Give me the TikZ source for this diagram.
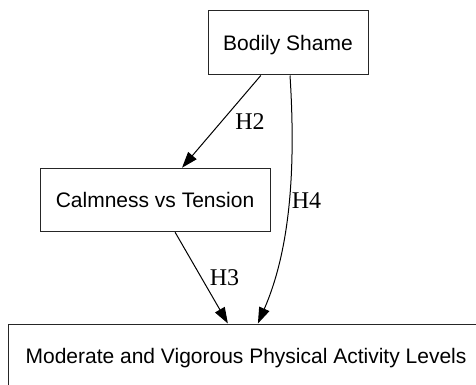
\documentclass[tikz,border=0pt]{standalone}
\usepackage{fontspec}
\setmainfont{Liberation Serif}
\setsansfont{Liberation Sans}
\usetikzlibrary{calc,arrows.meta}
\begin{document}
\begin{tikzpicture}[x=1pt,y=-1pt,
  boxnode/.style={draw=black!85, line width=1pt, inner sep=0pt, font=\sffamily\fontsize{21}{25}\selectfont, text height=15pt, text depth=0pt},
  edge/.style={draw=black, line width=1pt, -{Triangle[length=16pt,width=11pt]}},
  lbl/.style={font=\fontsize{24}{28}\selectfont, inner sep=0pt, text height=16pt, text depth=0pt}]
\useasboundingbox (0,0) rectangle (476,385);
\node[boxnode, minimum width=160pt, minimum height=64pt] (bs) at (288,43) {Bodily Shame};
\node[boxnode, minimum width=230pt, minimum height=63.5pt] (ct) at (155,200) {Calmness vs Tension};
\node[boxnode, minimum width=476pt, minimum height=63pt] (mv) at (246,355.5) {Moderate and Vigorous Physical Activity Levels};
\draw[edge] ($(bs.south west)!0.331!(bs.south east)$) -- ($(ct.north west)!0.617!(ct.north east)$);
\draw[edge] ($(ct.south west)!0.587!(ct.south east)$) -- ($(mv.north west)!0.462!(mv.north east)$);
\draw[edge] ($(bs.south west)!0.5125!(bs.south east)$) .. controls (296,170) and (290,250) .. ($(mv.north west)!0.525!(mv.north east)$);
\node[lbl] (h2) at (250,121) {H2};
\node[lbl] (h3) at (224.5,277.5) {H3};
\node[lbl] (h4) at (306.5,200) {H4};
\end{tikzpicture}
\end{document}
